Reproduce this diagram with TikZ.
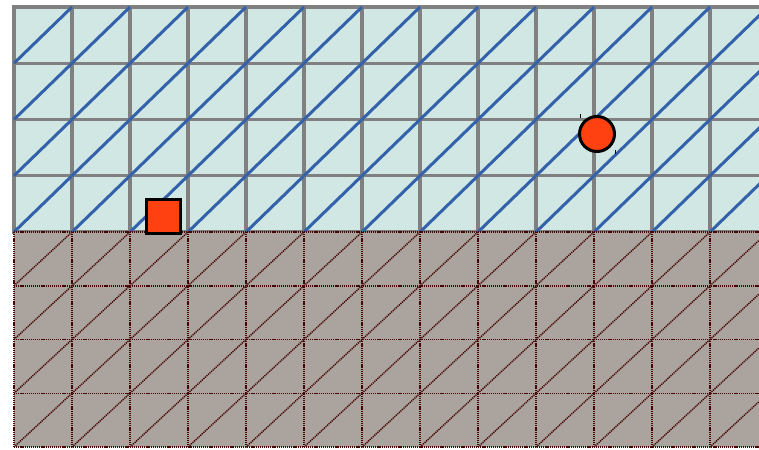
\documentclass[tikz,border=0pt]{standalone}
\usepackage{tikz}

\definecolor{skyfill}{RGB}{208,231,228}
\definecolor{soilfill}{RGB}{171,164,158}
\definecolor{diagblue}{RGB}{52,98,170}
\definecolor{soilline}{RGB}{70,5,5}
\definecolor{markred}{RGB}{255,64,16}

\begin{document}
\begin{tikzpicture}[x=1pt, y=-1pt,
    upper/.style={draw=gray, line width=3.3pt},
    upperdiag/.style={draw=diagblue, line width=3pt},
    lower/.style={draw=soilline, line width=1.5pt, dash pattern=on 1.2pt off 0.9pt},
    marker/.style={draw=black, line width=3pt, fill=markred, inner sep=0pt}]
        \useasboundingbox (0,0) rectangle (759,449);
        \clip (0,0) rectangle (759,449);

        % upper part
        \fill[skyfill] (14,7) rectangle (770,232);
        \foreach \i in {0,...,13} {
            \draw[upper] (14+58*\i,7) -- (14+58*\i,232);
        }
        \foreach \j in {0,...,4} {
            \draw[upper] (12.4,7+56.25*\j) -- (770,7+56.25*\j);
        }
        \foreach \i in {0,...,12} {
            \foreach \j in {0,...,3} {
                \draw[upperdiag] (14+58*\i,63.25+56.25*\j) -- (72+58*\i,7+56.25*\j);
            }
        }

        % lower part
        \fill[soilfill] (14,232) rectangle (770,447);
        \foreach \i in {0,...,13} {
            \draw[lower] (14+58*\i,232) -- (14+58*\i,447);
        }
        \foreach \j in {0,...,4} {
            \draw[lower] (14,232+53.75*\j) -- (770,232+53.75*\j);
        }
        \foreach \i in {0,...,12} {
            \foreach \j in {0,...,3} {
                \draw[lower] (14+58*\i,285.75+53.75*\j) -- (72+58*\i,232+53.75*\j);
            }
        }

        % markers
        \node[marker, rectangle, minimum size=34pt] (sq) at (163.5,216.5) {};
        \node[marker, circle, minimum size=35pt] (pt) at (597,134) {};
        \draw[line width=0.8pt] (580.5,114) -- (580.5,118);
        \draw[line width=0.8pt] (615,150) -- (615,154);
    \end{tikzpicture}
\end{document}
